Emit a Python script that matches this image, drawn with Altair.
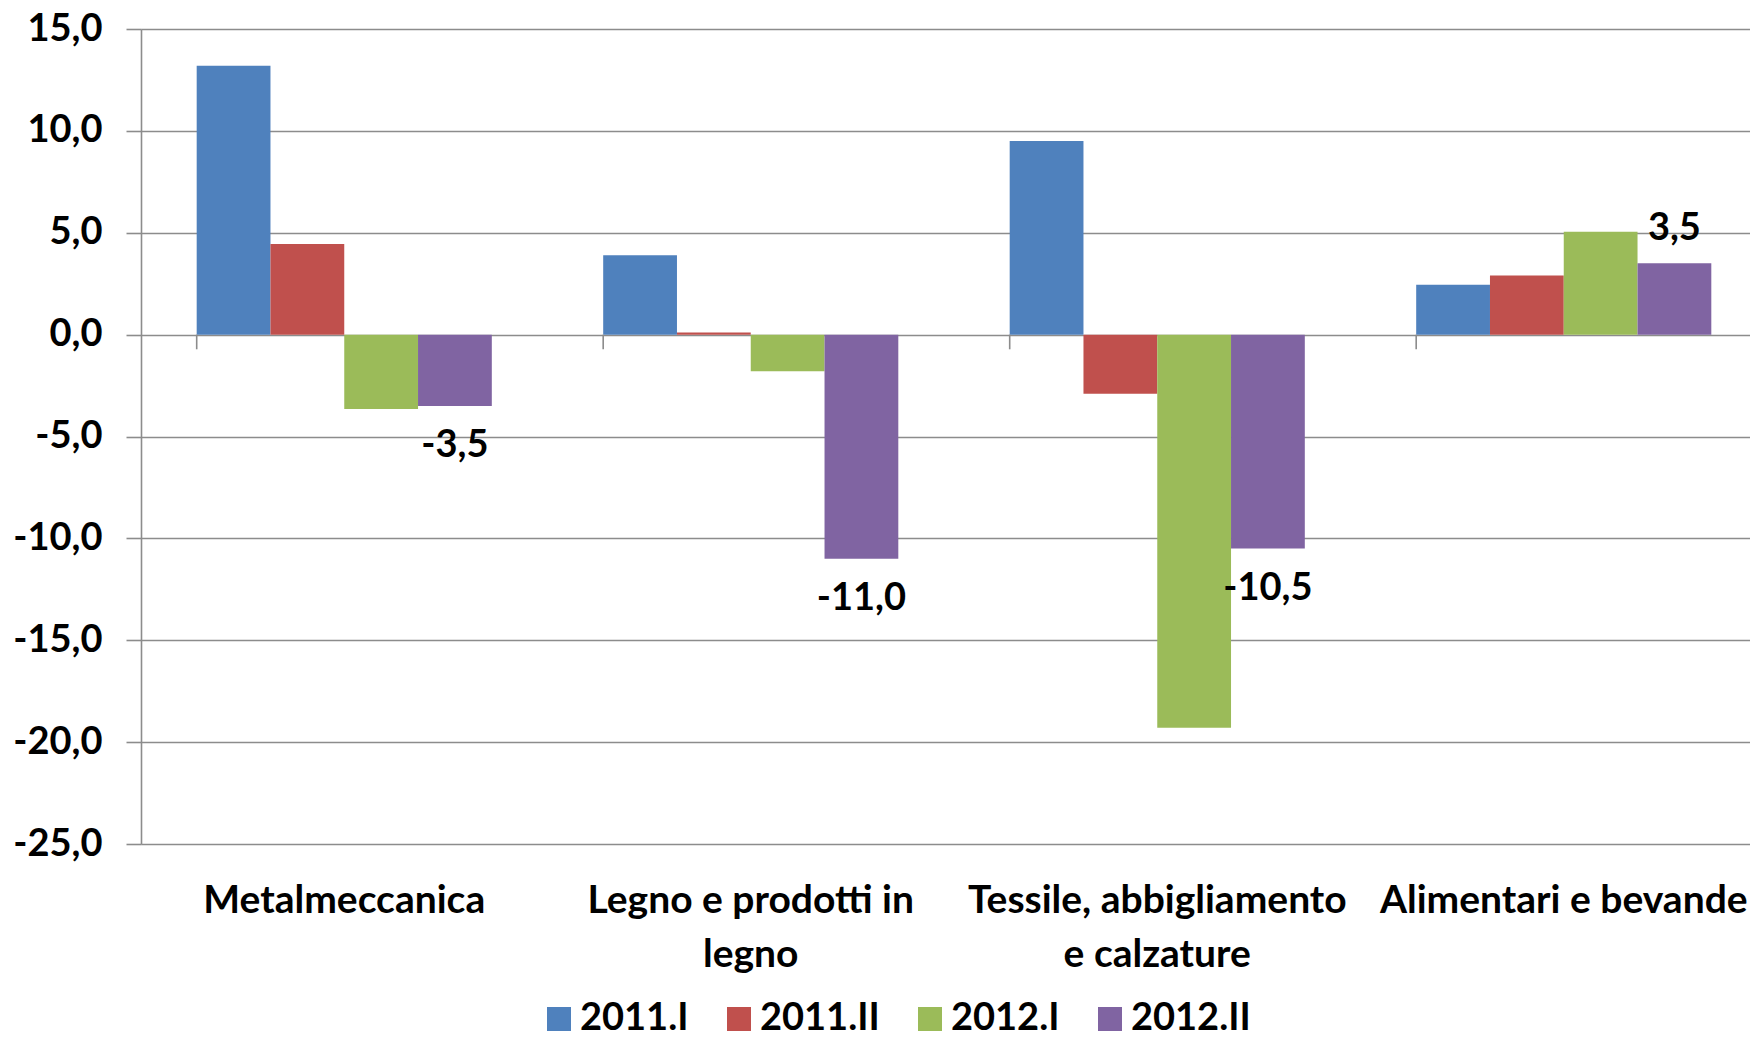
import altair as alt
import pandas as pd

categories = ["Metalmeccanica", "Legno e prodotti in legno",
              "Tessile, abbigliamento e calzature", "Alimentari e bevande"]
category_lines = [["Metalmeccanica"], ["Legno e prodotti in", "legno"],
                  ["Tessile, abbigliamento", "e calzature"], ["Alimentari e bevande"]]
series = ["2011.I", "2011.II", "2012.I", "2012.II"]
colors = ["#4F81BD", "#C0504D", "#9BBB59", "#8064A2"]

v_2011_I = [13.2, 3.9, 9.5, 2.45]
v_2011_II = [4.45, 0.1, -2.9, 2.9]
v_2012_I = [-3.65, -1.8, -19.3, 5.05]
v_2012_II = [-3.5, -11.0, -10.5, 3.5]

y_ticks = [15, 10, 5, 0, -5, -10, -15, -20, -25]
labelled_series = "2012.II"

rows = []
for s, vals in zip(series, [v_2011_I, v_2011_II, v_2012_I, v_2012_II]):
    for c, v in zip(categories, vals):
        rows.append({"cat": c, "series": s, "value": v})
df = pd.DataFrame(rows)
cat_df = pd.DataFrame({"cat": categories})

FONT = "Lato"
GRID = "#8c8c8c"
NUM_EXPR = "replace(replace(format(datum.value, '.1f'), '.', ','), '\u2212', '-')"

# multi-line category labels
expr = "datum.label"
for name, lines in reversed(list(zip(categories, category_lines))):
    arr = "[" + ",".join("'" + l + "'" for l in lines) + "]"
    expr = f"datum.label == '{name}' ? {arr} : ({expr})"

W, H = 1609, 815
x_scale = alt.Scale(paddingInner=0.274, paddingOuter=0.137, range=[0, 1626])
x_axis = alt.Axis(title=None, labelAngle=0, domain=False, ticks=False,
                  grid=False, labelFont=FONT, labelFontWeight="bold",
                  labelFontSize=39, labelColor="black", labelPadding=37,
                  labelLineHeight=54, labelLimit=800, labelExpr=expr)
y_scale = alt.Scale(domain=[-25, 15], nice=False, zero=False)
y_axis = alt.Axis(title=None, values=y_ticks, grid=True, gridColor=GRID,
                  gridWidth=1.6, gridOpacity=1, domainColor=GRID, domainWidth=1.6,
                  tickColor=GRID, tickWidth=1.6, tickSize=15,
                  labelFont=FONT, labelFontWeight="bold", labelFontSize=38,
                  labelColor="black", labelPadding=24, labelExpr=NUM_EXPR)


def xe(**kw):
    return alt.X("cat:N", sort=categories, scale=x_scale, axis=x_axis, **kw)


def ye():
    return alt.Y("value:Q", scale=y_scale, axis=y_axis)


xo = alt.XOffset("series:N", sort=series,
                 scale=alt.Scale(domain=series, paddingInner=0, paddingOuter=0))

base = alt.Chart(df)

bars = base.mark_bar().encode(
    x=xe(),
    xOffset=xo,
    y=ye(),
    color=alt.Color("series:N", sort=series,
                    scale=alt.Scale(domain=series, range=colors),
                    legend=alt.Legend(orient="none", legendX=399, legendY=971,
                                      direction="horizontal", title=None,
                                      symbolType="square", symbolSize=576,
                                      symbolStrokeWidth=0, labelFont=FONT,
                                      labelFontWeight="bold", labelFontSize=38,
                                      labelColor="black", columnPadding=31,
                                      labelOffset=2)),
)

cat_ticks = alt.Chart(cat_df).mark_rule(color=GRID, strokeWidth=1.6).encode(
    x=xe(bandPosition=0),
    y=alt.datum(0),
    y2=alt.datum(-0.72),
)

lab = base.transform_filter(alt.datum.series == labelled_series).transform_calculate(
    txt=NUM_EXPR
)
neg_text = lab.transform_filter(alt.datum.value < 0).mark_text(
    font=FONT, fontWeight="bold", fontSize=38, color="black", dy=40,
    baseline="middle").encode(x=xe(), xOffset=xo, y=ye(), text="txt:N")
pos_text = lab.transform_filter(alt.datum.value >= 0).mark_text(
    font=FONT, fontWeight="bold", fontSize=38, color="black", dy=-34,
    baseline="middle").encode(x=xe(), xOffset=xo, y=ye(), text="txt:N")

chart = alt.layer(bars, cat_ticks, neg_text, pos_text).properties(
    width=W, height=H,
    autosize=alt.AutoSizeParams(type="none"),
    padding={"left": 133, "top": 21, "right": 0, "bottom": 192},
).configure_view(strokeWidth=0).configure(background="white")

chart.save("out.html", embed_options={"renderer": "svg", "actions": False})
